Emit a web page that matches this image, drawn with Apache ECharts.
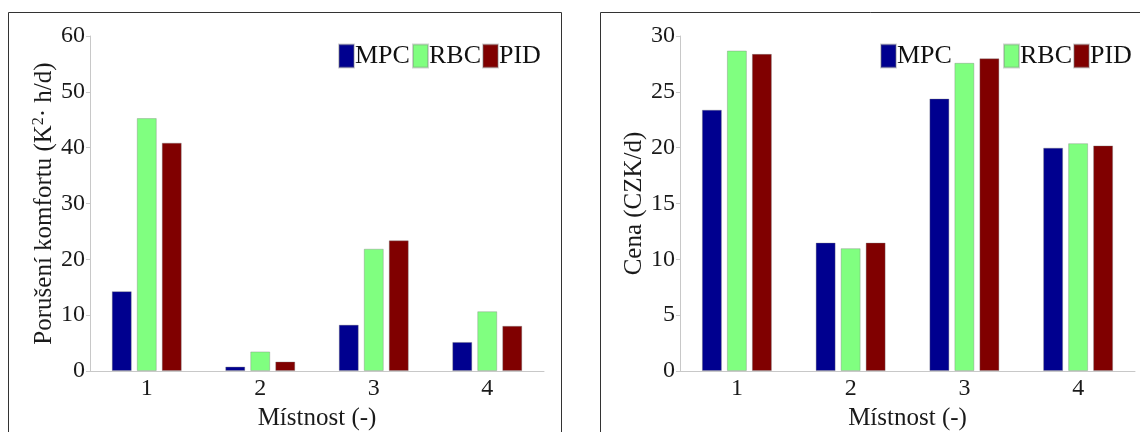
<!DOCTYPE html>
<html>
<head>
<meta charset="utf-8">
<script src="https://cdn.jsdelivr.net/npm/echarts@6/dist/echarts.min.js"></script>
<style>
  html, body { margin: 0; padding: 0; background: #fff; }
  #chart { width: 1140px; height: 432px; }
</style>
</head>
<body>
<div id="chart"></div>
<script>
const categories = ['1', '2', '3', '4'];
const seriesNames = ['MPC', 'RBC', 'PID'];
const seriesColors = ['#00008F', '#80FF80', '#800000'];

// Left panel: comfort violation (K^2 · h/d)
const comfortMPC = [14.3, 0.8, 8.3, 5.2];
const comfortRBC = [45.3, 3.5, 21.9, 10.7];
const comfortPID = [40.9, 1.7, 23.4, 8.1];

// Right panel: cost (CZK/d)
const costMPC = [23.4, 11.5, 24.4, 20.0];
const costRBC = [28.7, 11.0, 27.6, 20.4];
const costPID = [28.4, 11.5, 28.0, 20.2];

const leftYTicks = { min: 0, max: 60, interval: 10 };
const rightYTicks = { min: 0, max: 30, interval: 5 };

const FONT = '"Liberation Serif", "Times New Roman", serif';
const axisGray = '#c8c8c8';

function xAxisCfg(gridIndex) {
  return {
    type: 'category', gridIndex, data: categories,
    name: 'Místnost (-)', nameLocation: 'middle', nameGap: 20,
    nameTextStyle: { fontFamily: FONT, fontSize: 25, color: '#1a1a1a' },
    axisLine: { lineStyle: { color: axisGray, width: 1 } },
    axisTick: { show: false },
    axisLabel: { fontFamily: FONT, fontSize: 24, color: '#1a1a1a', margin: 6 },
    splitLine: { show: false }
  };
}
function yAxisCfg(gridIndex, t, name, gap) {
  return {
    type: 'value', gridIndex, min: t.min, max: t.max, interval: t.interval,
    name, nameLocation: 'middle', nameGap: gap,
    nameTextStyle: {
      fontFamily: FONT, fontSize: 25, color: '#1a1a1a',
      rich: { n: { fontFamily: FONT, fontSize: 25, color: '#1a1a1a' },
              sup: { fontFamily: FONT, fontSize: 16, color: '#1a1a1a', verticalAlign: 'top', padding: [0, 0, 12, 0] } }
    },
    axisLine: { show: true, lineStyle: { color: axisGray, width: 1 } },
    axisTick: { show: true, inside: false, length: 4, lineStyle: { color: axisGray } },
    axisLabel: { fontFamily: FONT, fontSize: 24, color: '#1a1a1a', margin: 5 },
    splitLine: { show: false }
  };
}
function barSeries(name, data, idx, axisIdx) {
  return {
    type: 'bar', name, data, xAxisIndex: axisIdx, yAxisIndex: axisIdx,
    barWidth: 20, barGap: '25%',
    itemStyle: { color: seriesColors[idx], borderColor: 'rgba(120,120,120,0.35)', borderWidth: 1 },
    emphasis: { disabled: true }
  };
}
function legendItem(name, idx, left) {
  return {
    data: [{ name, itemStyle: { color: seriesColors[idx] } }],
    left, top: 43, orient: 'horizontal', padding: 0,
    icon: 'rect', itemWidth: 15, itemHeight: 23,
    selectedMode: false,
    textStyle: { fontFamily: FONT, fontSize: 26, color: '#111', padding: [0, 0, 0, -4] }
  };
}

const option = {
  animation: false,
  backgroundColor: '#fff',
  graphic: [
    { type: 'rect', shape: { x: 8.5, y: 12.5, width: 553, height: 440 },
      style: { fill: 'none', stroke: '#333', lineWidth: 1 }, silent: true },
    { type: 'rect', shape: { x: 600.5, y: 12.5, width: 570, height: 440 },
      style: { fill: 'none', stroke: '#333', lineWidth: 1 }, silent: true }
  ],
  legend: [
    legendItem('MPC', 0, 338), legendItem('RBC', 1, 412), legendItem('PID', 2, 482),
    legendItem('MPC', 0, 880), legendItem('RBC', 1, 1003), legendItem('PID', 2, 1073)
  ],
  grid: [
    { left: 90, top: 36, width: 454, height: 335, containLabel: false, outerBoundsMode: 'none' },
    { left: 680, top: 36, width: 455, height: 335, containLabel: false, outerBoundsMode: 'none' }
  ],
  xAxis: [xAxisCfg(0), xAxisCfg(1)],
  yAxis: [
    yAxisCfg(0, leftYTicks, '{n|Porušení komfortu (K}{sup|2}{n|· h/d)}', 29),
    yAxisCfg(1, rightYTicks, 'Cena (CZK/d)', 26)
  ],
  series: [
    barSeries(seriesNames[0], comfortMPC, 0, 0),
    barSeries(seriesNames[1], comfortRBC, 1, 0),
    barSeries(seriesNames[2], comfortPID, 2, 0),
    barSeries(seriesNames[0], costMPC, 0, 1),
    barSeries(seriesNames[1], costRBC, 1, 1),
    barSeries(seriesNames[2], costPID, 2, 1)
  ]
};

const chart = echarts.init(document.getElementById('chart'), null, { renderer: 'canvas' });
chart.setOption(option);
</script>
</body>
</html>
